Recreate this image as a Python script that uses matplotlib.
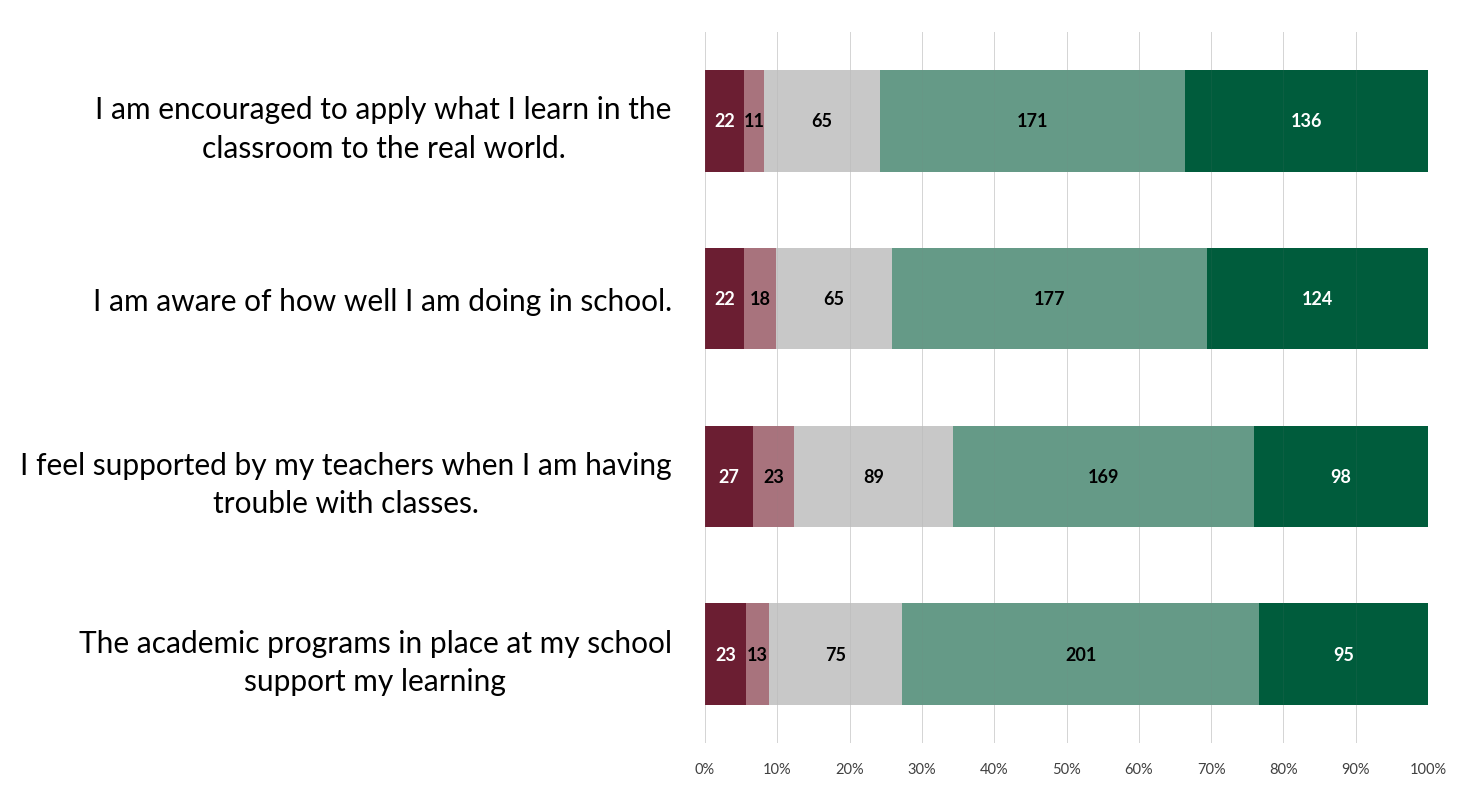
import matplotlib
matplotlib.use("Agg")
import matplotlib.pyplot as plt
import numpy as np

categories = [
    "I am encouraged to apply what I learn in the\nclassroom to the real world.",
    "I am aware of how well I am doing in school.",
    "I feel supported by my teachers when I am having\ntrouble with classes.",
    "The academic programs in place at my school\nsupport my learning",
]
strongly_disagree = [22, 22, 27, 23]
disagree = [11, 18, 23, 13]
neutral = [65, 65, 89, 75]
agree = [171, 177, 169, 201]
strongly_agree = [136, 124, 98, 95]
tick_labels = ["0%", "10%", "20%", "30%", "40%", "50%", "60%", "70%", "80%", "90%", "100%"]

series = [strongly_disagree, disagree, neutral, agree, strongly_agree]
colors = ["#6B1E32", "#A8737D", "#C8C8C8", "#659A87", "#005C3C"]
text_colors = ["white", "black", "black", "black", "white"]

plt.rcParams['font.family'] = ['Lato', 'DejaVu Sans']

fig = plt.figure(figsize=(14.84, 8.12), dpi=100)
ax = fig.add_axes([0.4751, 0.0837, 0.4872, 0.8757])

data = np.array(series, dtype=float)
totals = data.sum(axis=0)
pct = data / totals
y = np.arange(len(categories))
left = np.zeros(len(categories))
for vals, p, c, tc in zip(series, pct, colors, text_colors):
    ax.barh(y, p, left=left, height=0.57, color=c, zorder=2)
    for yi, (v, pi, li) in enumerate(zip(vals, p, left)):
        ax.text(li + pi / 2, yi, str(v), ha='center', va='center',
                color=tc, fontsize=13, fontweight='bold', zorder=4)
    left = left + p

ax.set_xlim(0, 1)
ax.set_ylim(3.5, -0.5)
ax.set_xticks(np.linspace(0, 1, 11))
ax.set_xticklabels(tick_labels, fontsize=10.5, color='#404040')
ax.set_yticks(y)
ax.set_yticklabels(categories, fontsize=21.5, color='black',
                   multialignment='center', linespacing=1.45)
ax.tick_params(axis='both', length=0)
ax.tick_params(axis='y', pad=24)
ax.tick_params(axis='x', pad=14)
for s in ax.spines.values():
    s.set_visible(False)
ax.grid(axis='x', color='#DEDEDE', linewidth=0.7, zorder=1)
ax.set_axisbelow(True)
for xv in np.linspace(0, 1, 11):
    ax.axvline(xv, color='#808080', alpha=0.1, linewidth=0.7, zorder=3)

fig.savefig("out.png", dpi=100)
